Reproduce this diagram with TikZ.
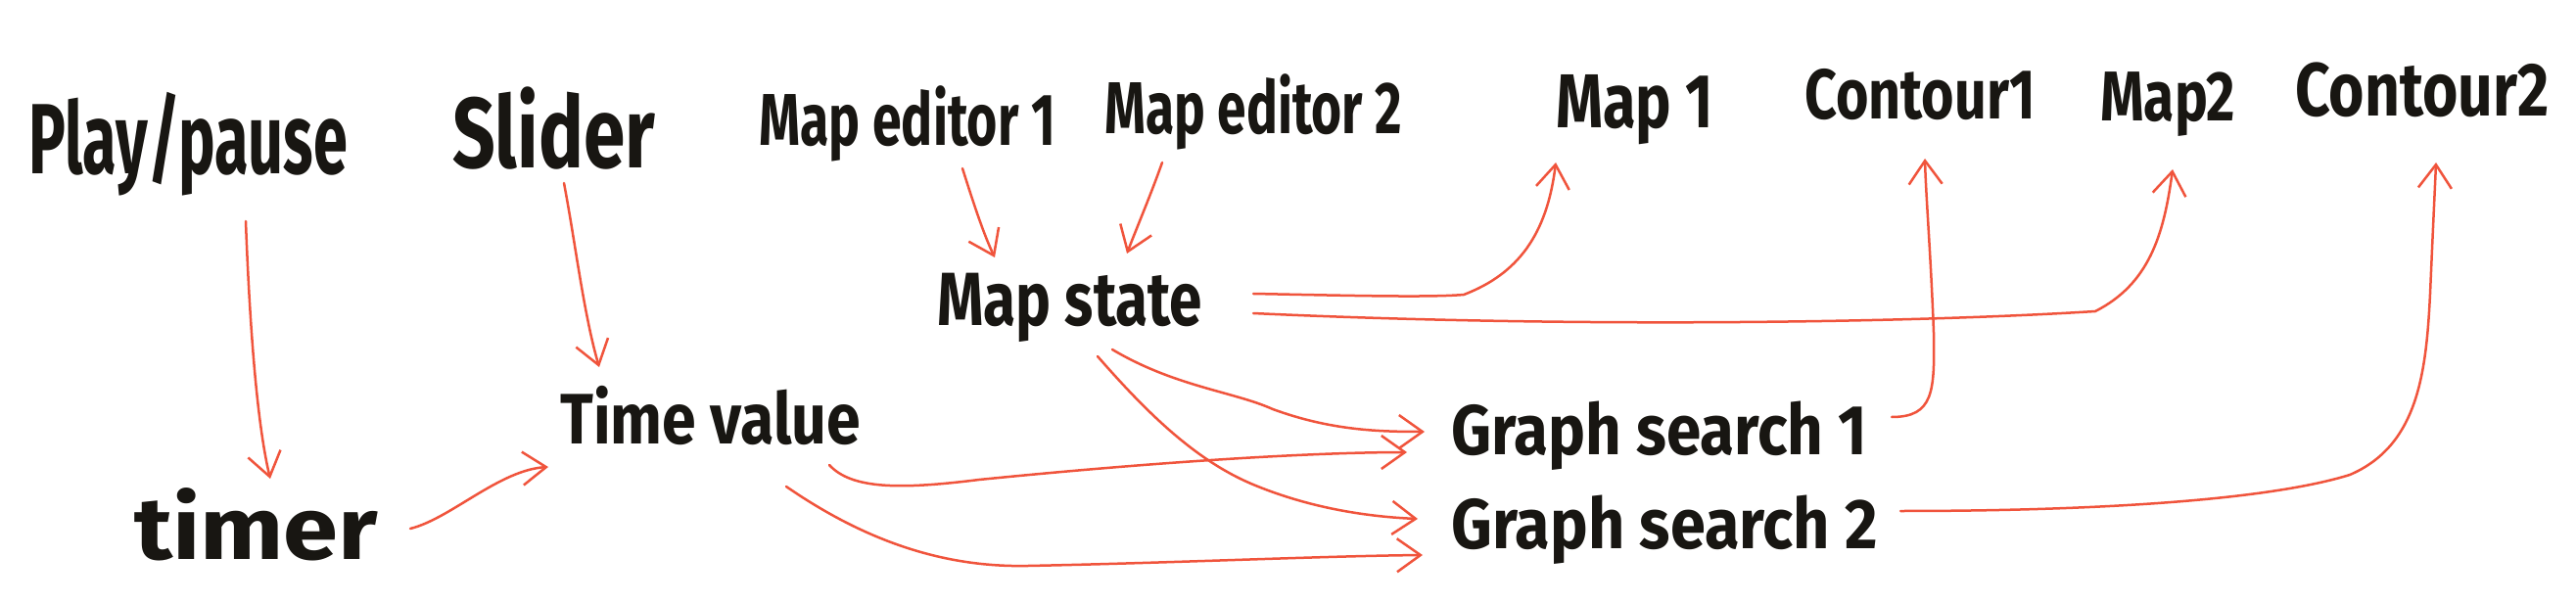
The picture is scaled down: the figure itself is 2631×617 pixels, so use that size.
\documentclass[tikz,border=0pt]{standalone}
\usepackage{fontspec}
\setmainfont{Fira Sans}
\usetikzlibrary{arrows.meta}
\definecolor{ink}{RGB}{24,22,18}
\definecolor{arr}{RGB}{240,84,60}
\newcommand\fs[3]{\fontsize{#1pt}{#1pt}\selectfont\resizebox{#2pt}{\height}{#3}}
\tikzset{
  lbl/.style={anchor=base west, inner sep=0pt, text=ink, font=\bfseries},
  conn/.style={draw=arr, line width=2.5pt, line cap=round, line join=round,
    -{Straight Barb[length=24pt,width=34pt,line width=2.5pt]}}
}
\begin{document}
\begin{tikzpicture}[x=1pt,y=-1pt]
\fill[white] (0,0) rectangle (2631,617);
\useasboundingbox (0,0) rectangle (2631,617);
% labels
\node[lbl] (pp)  at (29,178)   {\fs{102}{326}{Play/pause}};
\node[lbl] (sl)  at (462,172)  {\fs{102}{207}{Slider}};
\node[lbl] (me1) at (775,149)  {\fs{75}{303}{Map editor 1}};
\node[lbl] (me2) at (1128,137) {\fs{75}{304}{Map editor 2}};
\node[lbl] (m1)  at (1589,131) {\fs{78}{161}{Map 1}};
\node[lbl] (c1)  at (1843,122) {\fs{72}{236}{Contour1}};
\node[lbl] (m2)  at (2145,124) {\fs{72}{138}{Map2}};
\node[lbl] (c2)  at (2344,119) {\fs{77}{259}{Contour2}};
\node[lbl] (ms)  at (957,333)  {\fs{77}{271}{Map state}};
\node[lbl] (tv)  at (572,453)  {\fs{73}{307}{Time value}};
\node[lbl] (tm)  at (137,571)  {\fs{90}{249}{timer}};
\node[lbl] (g1)  at (1482,464) {\fs{72}{425}{Graph search 1}};
\node[lbl] (g2)  at (1482,560) {\fs{72}{436}{Graph search 2}};
% connector ends
\coordinate (pp-o) at (251,226);  \coordinate (tm-i) at (276,489);
\coordinate (sl-o) at (576,187);  \coordinate (tv-i1) at (612,375);
\coordinate (me1-o) at (983,172); \coordinate (ms-i1) at (1016,263);
\coordinate (me2-o) at (1187,166);\coordinate (ms-i2) at (1151,259);
\coordinate (tm-o) at (419,540);  \coordinate (tv-i2) at (560,477);
\coordinate (ms-o1) at (1280,300);\coordinate (m1-i) at (1589,166);
\coordinate (ms-o2) at (1280,320);\coordinate (m2-i) at (2219,173);
\coordinate (g1-o) at (1932,426); \coordinate (c1-i) at (1966,162);
\coordinate (g2-o) at (1941,522); \coordinate (c2-i) at (2488,166);
\coordinate (ms-o3) at (1136,357);\coordinate (g1-i1) at (1455,441);
\coordinate (ms-o4) at (1121,364);\coordinate (g2-i1) at (1448,530);
\coordinate (tv-o1) at (847,475); \coordinate (g1-i2) at (1437,462);
\coordinate (tv-o2) at (803,497); \coordinate (g2-i2) at (1453,567);
% connectors
\draw[conn] (pp-o) .. controls (255,330) and (262,430) .. (tm-i);
\draw[conn] (sl-o) .. controls (588,250) and (596,320) .. (tv-i1);
\draw[conn] (me1-o) .. controls (995,210) and (1005,240) .. (ms-i1);
\draw[conn] (me2-o) .. controls (1175,200) and (1160,235) .. (ms-i2);
\draw[conn] (tm-o) .. controls (460,530) and (510,480) .. (tv-i2);
\draw[conn] (ms-o1) .. controls (1380,302) and (1460,304) .. (1495,301)
  .. controls (1550,280) and (1580,240) .. (m1-i);
\draw[conn] (ms-o2) .. controls (1600,335) and (1950,330) .. (2140,318)
  .. controls (2195,290) and (2210,240) .. (m2-i);
\draw[conn] (g1-o) .. controls (1975,426) and (1976,400) .. (1975,340)
  .. controls (1972,260) and (1967,200) .. (c1-i);
\draw[conn] (g2-o) .. controls (2150,522) and (2320,510) .. (2400,485)
  .. controls (2470,455) and (2478,380) .. (2482,300)
  .. controls (2485,230) and (2487,190) .. (c2-i);
\draw[conn] (ms-o3) .. controls (1200,395) and (1260,400) .. (1300,418)
  .. controls (1360,440) and (1410,441) .. (g1-i1);
\draw[conn] (ms-o4) .. controls (1170,420) and (1220,470) .. (1280,495)
  .. controls (1340,520) and (1400,528) .. (g2-i1);
\draw[conn] (tv-o1) .. controls (870,500) and (920,500) .. (1000,490)
  .. controls (1200,470) and (1350,462) .. (g1-i2);
\draw[conn] (tv-o2) .. controls (880,550) and (960,580) .. (1050,578)
  .. controls (1200,575) and (1350,568) .. (g2-i2);
\end{tikzpicture}
\end{document}
